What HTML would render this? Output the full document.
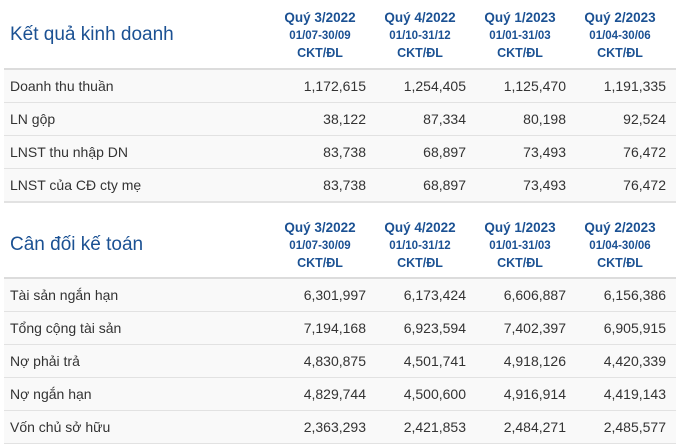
<!DOCTYPE html>
<html><head><meta charset="utf-8"><style>
body{margin:0;width:681px;height:444px;background:#fff;font-family:"Liberation Sans",Arial,sans-serif;position:relative;overflow:hidden}
.t{position:absolute;left:10px;font-size:19px;color:#1b5193}
.hd{position:absolute;width:100px;text-align:center;color:#1b5193;font-weight:bold}
.q{font-size:13.5px;line-height:18px}
.d{font-size:11.5px;line-height:18px}
.c{font-size:12.5px;line-height:17px}
.row{position:absolute;left:4px;width:672px;height:32px;background:#f9f9f9;border-bottom:1px solid #e2e2e2;font-size:14px;color:#333}
.row .l{position:absolute;left:6px;top:8px}
.row .v{position:absolute;top:8px;width:100px;text-align:right}
.sep{position:absolute;left:4px;width:672px;height:2px;background:#dcdcdc}
</style></head><body>
<div class="t" style="top:24px">Kết quả kinh doanh</div>
<div class="t" style="top:234px">Cân đối kế toán</div>
<div class="sep" style="top:68px"></div>
<div class="sep" style="top:277px"></div>
<div style="position:absolute;left:4px;width:672px;top:202px;height:1px;background:#e2e2e2"></div>
<script>
const quarters=["Quý 3/2022","Quý 4/2022","Quý 1/2023","Quý 2/2023"];
const ranges=["01/07-30/09","01/10-31/12","01/01-31/03","01/04-30/06"];
const labels1=["Doanh thu thuần","LN gộp","LNST thu nhập DN","LNST của CĐ cty mẹ"];
const values1=[[1172615,1254405,1125470,1191335],[38122,87334,80198,92524],[83738,68897,73493,76472],[83738,68897,73493,76472]];
const labels2=["Tài sản ngắn hạn","Tổng cộng tài sản","Nợ phải trả","Nợ ngắn hạn","Vốn chủ sở hữu"];
const values2=[[6301997,6173424,6606887,6156386],[7194168,6923594,7402397,6905915],[4830875,4501741,4918126,4420339],[4829744,4500600,4916914,4419143],[2363293,2421853,2484271,2485577]];
const colX=i=>270+i*100;
const fmt=n=>n.toLocaleString('en-US');
function header(top){
  quarters.forEach((q,i)=>{
    const d=document.createElement('div');d.className='hd';
    
    
    d.style.left=colX(i)+'px';d.style.top=top+'px';
    d.innerHTML='<div class="q">'+q+'</div><div class="d">'+ranges[i]+'</div><div class="c">CKT/ĐL</div>';
    document.body.appendChild(d);
  });
}
header(9);header(219);
function rows(labels,vals,top){
  labels.forEach((lb,r)=>{
    const row=document.createElement('div');row.className='row';
    
    
    row.style.top=(top+r*33)+'px';
    let h='<span class="l">'+lb+'</span>';
    vals[r].forEach((v,i)=>{h+='<span class="v" style="left:'+(colX(i)-8)+'px">'+fmt(v)+'</span>';});
    row.innerHTML=h;document.body.appendChild(row);
  });
}
rows(labels1,values1,70);rows(labels2,values2,279);
</script>
</body></html>
